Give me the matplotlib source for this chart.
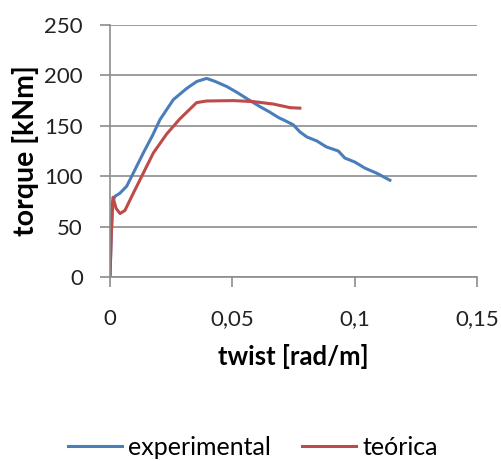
import matplotlib
matplotlib.use("Agg")
import matplotlib.pyplot as plt
from matplotlib.ticker import FuncFormatter

# experimental curve (twist [rad/m], torque [kNm])
exp_twist = [0.0, 0.0005, 0.001, 0.002, 0.004, 0.0068, 0.0095, 0.0136, 0.0175,
             0.0204, 0.0259, 0.0313, 0.0355, 0.0395, 0.043, 0.0477, 0.052,
             0.0559, 0.0613, 0.065, 0.069, 0.0708, 0.0749, 0.0776, 0.0804,
             0.0845, 0.0885, 0.0933, 0.096, 0.1001, 0.1042, 0.109, 0.1144]
exp_torque = [0, 40, 74, 80, 83, 90, 103, 123, 141,
              156, 176, 187, 194, 197, 194, 189, 183,
              177, 169, 164, 158, 156, 151, 144, 139,
              135, 129, 125, 118, 114, 108, 103, 96]

# theoretical curve
teo_twist = [0.0, 0.0005, 0.0012, 0.0025, 0.0041, 0.0061, 0.0095, 0.0136,
             0.0177, 0.0232, 0.0286, 0.0354, 0.0395, 0.0504, 0.0586, 0.0667,
             0.0736, 0.0776]
teo_torque = [0, 40, 79, 68, 63, 66, 83, 103,
              123, 142, 157, 173, 174.6, 175, 174, 171.6,
              168, 167.5]

x_ticks = [0, 0.05, 0.1, 0.15]
y_ticks = [0, 50, 100, 150, 200, 250]

plt.rcParams['font.family'] = ['Lato', 'DejaVu Sans']

fig = plt.figure(figsize=(5.01, 4.61), dpi=100)
ax = fig.add_axes([110/501, 1 - 277/461, (477 - 110)/501, (277 - 25)/461])

grid_c = "#8c8c8c"
ax.plot(exp_twist, exp_torque, color="#4a7ebb", lw=2.2, label="experimental",
        solid_joinstyle="round")
ax.plot(teo_twist, teo_torque, color="#be4b48", lw=2.2, label="teórica",
        solid_joinstyle="round")

ax.set_xlim(0, 0.15)
ax.set_ylim(0, 250)
ax.set_xticks(x_ticks)
ax.set_yticks(y_ticks)
ax.xaxis.set_major_formatter(FuncFormatter(lambda v, p: ("%g" % v).replace(".", ",")))
ax.yaxis.grid(True, color=grid_c, lw=1.2)
ax.set_axisbelow(True)

for s in ["top", "right"]:
    ax.spines[s].set_visible(False)
for s in ["left", "bottom"]:
    ax.spines[s].set_color(grid_c)
    ax.spines[s].set_linewidth(1.2)
ax.tick_params(colors=grid_c, width=1.2, length=7, labelsize=16, labelcolor="#222222")
ax.tick_params(axis="x", pad=16)
ax.tick_params(axis="y", pad=12.5)

ax.set_xlabel("twist [rad/m]", fontsize=18.5, fontweight="bold", labelpad=11)
ax.set_ylabel("torque [kNm]", fontsize=20.5, fontweight="bold", labelpad=4)

fig.legend(loc="center", bbox_to_anchor=(0.505, 1 - 447/461), ncol=2, frameon=False,
           fontsize=18, handlelength=2.16, handletextpad=0.24, columnspacing=1.24)

fig.savefig("out.png", dpi=100)
